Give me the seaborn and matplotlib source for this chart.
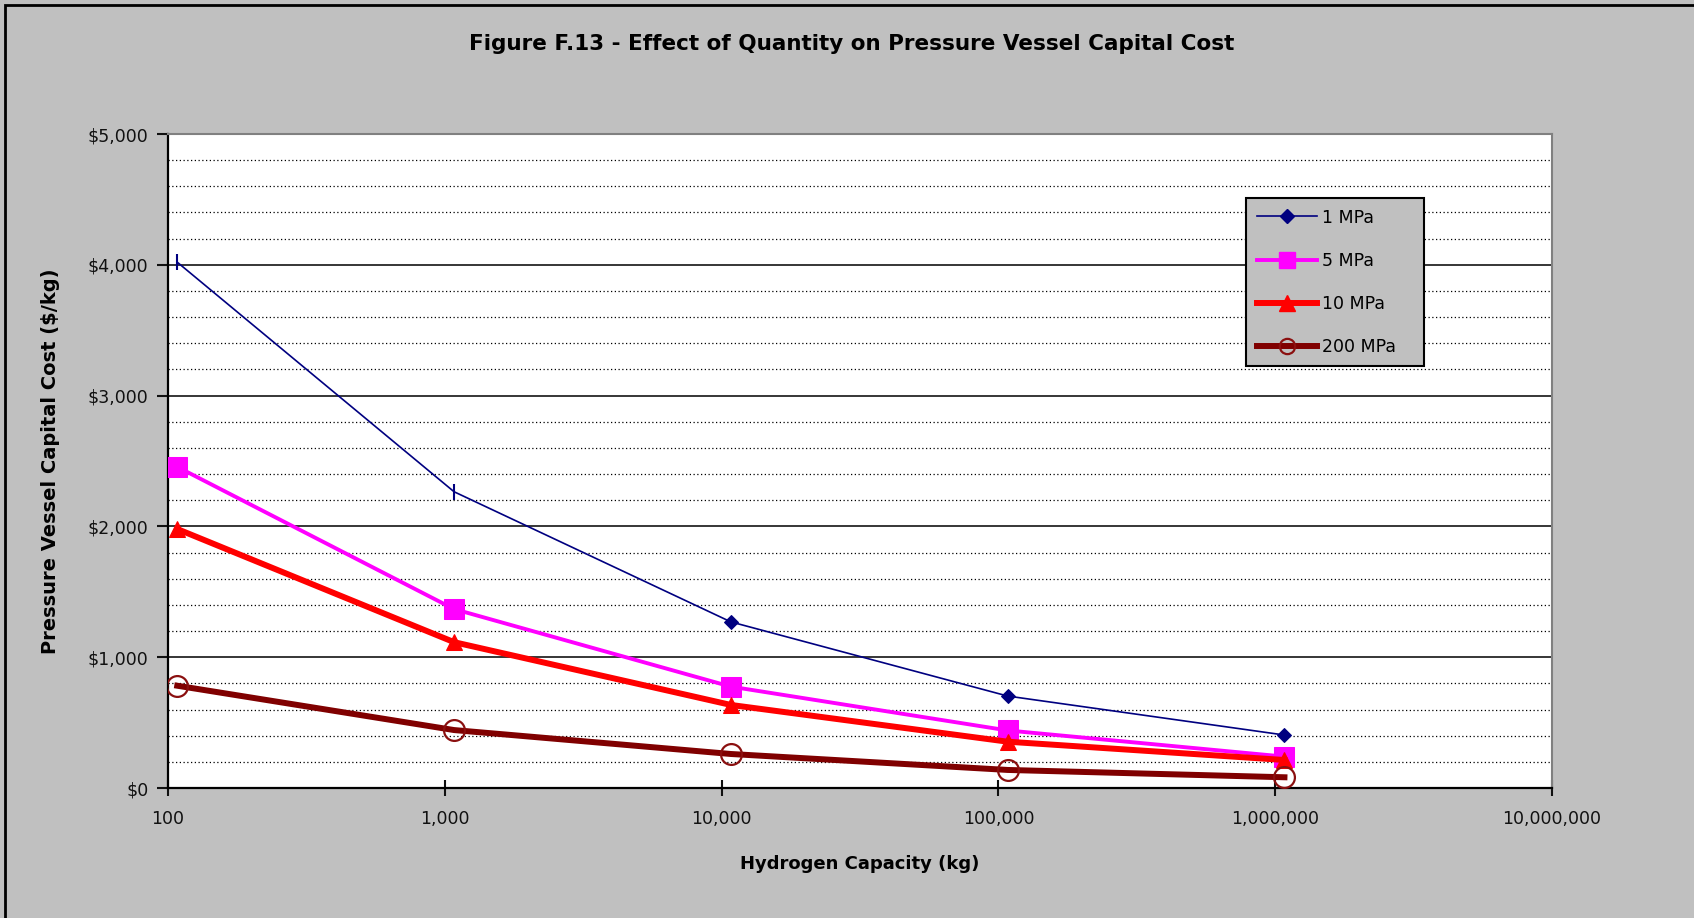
"""Figure F.13 - efecto de la cantidad en el costo de capital del recipiente a presion."""

import matplotlib

matplotlib.use("Agg")
import matplotlib.pyplot as plt
import matplotlib.ticker as mticker
from matplotlib.lines import Line2D
from matplotlib.patches import Rectangle
import pandas as pd
import seaborn as sns

# Datos
capacity_kg = [108, 1080, 10800, 108000, 1080000]
cost_1mpa = [4020, 2265, 1270, 703, 405]
cost_5mpa = [2455, 1368, 775, 440, 240]
cost_10mpa = [1980, 1115, 635, 354, 214]
cost_200mpa = [782, 443, 260, 138, 82]
series_names = ["1 MPa", "5 MPa", "10 MPa", "200 MPa"]
x_ticks = [100, 1000, 10000, 100000, 1000000, 10000000]
y_ticks = [0, 1000, 2000, 3000, 4000, 5000]

df = pd.DataFrame(
    {
        "capacity": capacity_kg * 4,
        "cost": cost_1mpa + cost_5mpa + cost_10mpa + cost_200mpa,
        "series": [s for s in series_names for _ in capacity_kg],
    }
)

plt.rcParams["font.family"] = ["DejaVu Sans"]

W, H = 1694, 918
fig = plt.figure(figsize=(W / 100, H / 100), dpi=100, facecolor="#C0C0C0")
ax = fig.add_axes([168 / W, 1 - 788 / H, (1552 - 168) / W, (788 - 134) / H])
ax.set_facecolor("white")

# estilos por serie
styles = {
    "1 MPa": dict(color="#000080", lw=1.2, marker="D", ms=7.5, mfc="#000080", mec="#000080"),
    "5 MPa": dict(color="#FF00FF", lw=2.8, marker="s", ms=15, mfc="#FF00FF", mec="#FF00FF"),
    "10 MPa": dict(color="#FF0000", lw=4.3, marker="^", ms=11, mfc="#FF0000", mec="#FF0000"),
    "200 MPa": dict(color="#800000", lw=4.3, marker="o", ms=15, mfc="none", mec="#8B1010", mew=1.6),
}

for i, name in enumerate(series_names):
    st = dict(styles[name])
    sub = df[df["series"] == name]
    if name == "1 MPa":
        # los dos primeros puntos aparecen como rayitas verticales
        sns.lineplot(data=sub, x="capacity", y="cost", ax=ax, color=st["color"],
                     lw=st["lw"], marker=None, zorder=3 + i, legend=False)
        sub_d = sub.iloc[2:]
        sns.lineplot(data=sub_d, x="capacity", y="cost", ax=ax, color=st["color"],
                     lw=0, marker="D", ms=st["ms"], mec=st["mec"], mfc=st["mfc"],
                     zorder=3 + i, legend=False)
        sub_t = sub.iloc[:2]
        sns.lineplot(data=sub_t, x="capacity", y="cost", ax=ax, color=st["color"],
                     lw=0, marker="|", ms=12, mew=1.5, mec=st["color"],
                     zorder=3 + i, legend=False)
    else:
        sns.lineplot(data=sub, x="capacity", y="cost", ax=ax, zorder=3 + i,
                     legend=False, **st)

ax.set_xscale("log")
ax.set_xlim(100, 10000000)
ax.set_ylim(0, 5000)
ax.xaxis.set_major_locator(mticker.FixedLocator(x_ticks))
ax.xaxis.set_minor_locator(mticker.NullLocator())
ax.xaxis.set_major_formatter(mticker.FuncFormatter(lambda v, p: f"{v:,.0f}"))
ax.yaxis.set_major_locator(mticker.FixedLocator(y_ticks))
ax.yaxis.set_minor_locator(mticker.MultipleLocator(200))
ax.yaxis.set_major_formatter(mticker.FuncFormatter(lambda v, p: f"${v:,.0f}"))

ax.grid(axis="y", which="major", color="black", lw=1.1, ls="-")
ax.grid(axis="y", which="minor", color="black", lw=0.9, ls=(0, (1, 2)))
ax.grid(axis="x", visible=False)
ax.set_axisbelow(True)

ax.tick_params(axis="y", which="major", direction="out", length=8, width=1.5,
               labelsize=12.5, pad=6, colors="#111111")
ax.tick_params(axis="y", which="minor", length=0)
ax.tick_params(axis="x", which="major", direction="inout", length=12, width=1.5,
               labelsize=12.5, pad=10, colors="#111111")

for side in ["left", "bottom"]:
    ax.spines[side].set_color("black")
    ax.spines[side].set_linewidth(1.6)
for side in ["top", "right"]:
    ax.spines[side].set_color("#808080")
    ax.spines[side].set_linewidth(1.5)

ax.set_xlabel("Hydrogen Capacity (kg)", fontsize=13, fontweight="bold")
ax.set_ylabel("Pressure Vessel Capital Cost ($/kg)", fontsize=14, fontweight="bold")
ax.xaxis.set_label_coords(0.5, (788 - 855) / 654)
ax.yaxis.set_label_coords((60 - 168) / 1384, 0.5)

fig.text(852 / W, 1 - 44 / H, "Figure F.13 - Effect of Quantity on Pressure Vessel Capital Cost",
         ha="center", va="center", fontsize=15.5, fontweight="bold")

# leyenda
handles = []
for name in series_names:
    st = styles[name]
    handles.append(Line2D([], [], color=st["color"], lw=st["lw"], marker=st["marker"],
                          ms=min(st["ms"], 11), mfc=st["mfc"], mec=st["mec"],
                          mew=st.get("mew", 1.0)))
leg = ax.legend(handles, series_names, loc="upper left",
                bbox_to_anchor=(0.779, 0.5, 0.1286, 0.402), mode="expand",
                frameon=True, fancybox=False, facecolor="#C0C0C0", edgecolor="black",
                framealpha=1, fontsize=12.5, handlelength=3.5, handletextpad=0.25,
                labelspacing=1.45, borderpad=0.6, borderaxespad=0)
leg.get_frame().set_linewidth(1.5)

# borde de la figura
fig.patches.append(Rectangle((5 / W, -0.02), 1.1, 1 - 5 / H + 0.02, transform=fig.transFigure,
                             fill=False, edgecolor="black", lw=2))

plt.savefig("out.png", dpi=100, facecolor=fig.get_facecolor())
plt.close()
